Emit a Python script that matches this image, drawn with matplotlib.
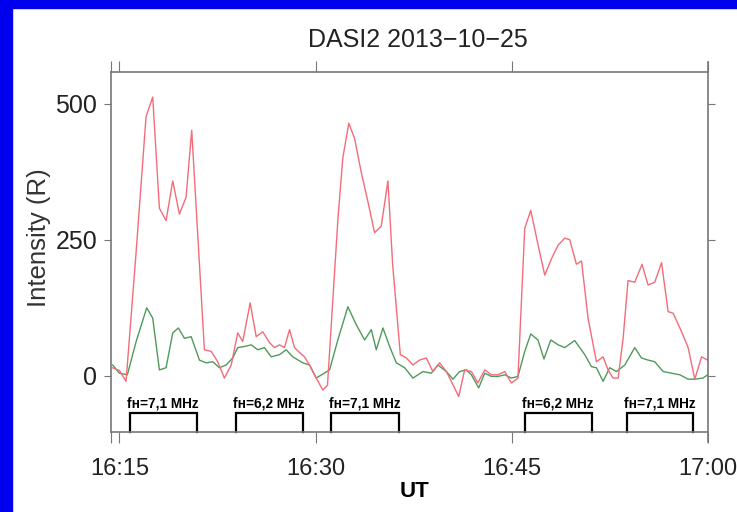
import matplotlib
matplotlib.use('Agg')
import matplotlib.pyplot as plt

# UT as minutes after 16:00
red_t = [14.46, 15.0, 15.51, 16.28, 17.04, 17.55, 18.06, 18.57, 19.08, 19.59, 20.10, 20.53,
         21.50, 22.02, 22.52, 23.03, 23.55, 24.05, 24.43, 25.00, 25.46, 25.96, 26.48, 26.86,
         27.24, 27.62, 28.01, 28.39, 28.77, 29.15, 29.54, 30.05, 30.55, 30.91, 31.70, 32.08,
         32.54, 32.98, 33.49, 34.00, 34.51, 35.02, 35.53, 35.89, 36.48, 36.94, 37.44, 37.95,
         38.46, 38.97, 39.48, 40.00, 40.50, 40.94, 41.40, 41.91, 42.41, 42.93, 43.44, 43.94,
         44.46, 44.97, 45.47, 45.99, 46.45, 46.96, 47.52, 48.03, 48.54, 49.05, 49.43, 49.94,
         50.33, 50.83, 51.47, 51.98, 52.36, 52.74, 53.13, 53.51, 53.89, 54.40, 54.96, 55.42,
         55.93, 56.45, 56.95, 57.34, 57.98, 58.48, 58.99, 59.51, 59.97]
red_v = [15, 10, -10, 227, 476, 512, 308, 285, 358, 297, 328, 451,
         48, 45, 26, -4, 20, 79, 63, 134, 72, 81, 61, 52,
         57, 52, 85, 52, 43, 35, 20, -4, -26, -17, 285, 400,
         464, 436, 374, 320, 263, 275, 358, 205, 39, 33, 20, 29,
         33, 8, 24, 8, -16, -38, 11, 8, -13, 11, 2, 2,
         8, -13, -4, 271, 304, 246, 185, 215, 240, 253, 250, 205,
         211, 106, 26, 35, 11, -4, -4, 69, 175, 172, 205, 167,
         172, 208, 118, 115, 81, 52, -6, 35, 29]

green_t = [14.49, 15.0, 15.61, 16.28, 17.09, 17.55, 18.06, 18.57, 19.08, 19.51, 19.97, 20.49,
           21.12, 21.63, 22.14, 22.65, 23.16, 23.67, 24.05, 24.56, 25.08, 25.58, 26.09, 26.61,
           27.24, 27.75, 28.26, 29.02, 29.54, 30.05, 31.07, 31.70, 32.47, 33.11, 33.75, 34.26,
           34.64, 35.15, 35.66, 36.17, 36.81, 37.44, 38.21, 38.85, 39.35, 40.00, 40.50, 41.01,
           41.53, 41.91, 42.47, 42.93, 43.44, 43.94, 44.46, 44.97, 45.47, 45.99, 46.45, 47.00,
           47.46, 47.98, 48.54, 49.05, 49.81, 50.58, 51.09, 51.47, 51.98, 52.49, 53.00, 53.64,
           54.40, 54.91, 55.42, 55.93, 56.57, 57.21, 57.85, 58.48, 58.99, 59.62, 59.97]
green_v = [20, 5, 2, 63, 125, 106, 11, 15, 79, 88, 69, 72,
           29, 24, 26, 15, 20, 33, 52, 54, 57, 48, 52, 35,
           39, 48, 35, 24, 20, -4, 11, 66, 127, 94, 66, 85,
           48, 88, 54, 24, 15, -4, 8, 5, 20, 8, -6, 8,
           11, 2, -22, 5, -1, -1, 2, -4, -1, 45, 77, 66,
           31, 66, 57, 52, 65, 39, 17, 15, -10, 15, 8, 20,
           52, 33, 29, 26, 8, 5, 2, -6, -6, -4, 2]

# heating periods
box_start = [15.8, 23.9, 31.2, 46.0, 53.8]
box_end = [20.9, 29.0, 36.4, 51.1, 58.85]
box_labels = ['fн=7,1 MHz', 'fн=6,2 MHz', 'fн=7,1 MHz', 'fн=6,2 MHz', 'fн=7,1 MHz']

tick_pos = [15, 30, 45, 60]
tick_labels = ['16:15', '16:30', '16:45', '17:00']
ytick_pos = [0, 250, 500]

narrow = ['Liberation Sans Narrow', 'Liberation Sans', 'DejaVu Sans']

fig = plt.figure(figsize=(7.37, 5.12), dpi=100)
fig.patch.set_facecolor('white')
# blue frame of the screenshot
fig.patches.append(plt.Rectangle((0, 1 - 8 / 512), 1, 8 / 512, transform=fig.transFigure,
                                 color='#0000ee', zorder=0))
fig.patches.append(plt.Rectangle((0, 0), 12 / 737, 1, transform=fig.transFigure,
                                 color='#0000ee', zorder=0))

ax = fig.add_axes([111 / 737, 1 - 432 / 512, 597 / 737, 360 / 512])
ymin, ymax = -103, 558
xmin, xmax = 14.36, 60

ax.plot(green_t, green_v, color='#4f9a5c', lw=1.0)
ax.plot(red_t, red_v, color='#f26c7a', lw=1.0)

box_top = -68
for s, e, lab in zip(box_start, box_end, box_labels):
    ax.plot([s, s, e, e], [ymin, box_top, box_top, ymin], color='black', lw=1.6,
            solid_joinstyle='miter', clip_on=False)
    ax.text((s + e) / 2, box_top + 5, lab, ha='center', va='bottom', fontsize=9.8,
            fontweight='bold', family=narrow)

ax.set_xlim(xmin, xmax)
ax.set_ylim(ymin, ymax)

ax.set_xticks([xmin] + tick_pos)
ax.set_xticklabels([''] + tick_labels, family=narrow, fontsize=17, color='#222222')
ax.set_yticks(ytick_pos)
ax.set_yticklabels([str(v) for v in ytick_pos], family=narrow, fontsize=18, color='#222222')
ax.tick_params(axis='x', direction='out', length=8, color='#777777', pad=11,
               top=True)
ax.tick_params(axis='y', direction='out', length=5, color='#777777', pad=5,
               right=True)

for side in ['left', 'right', 'top', 'bottom']:
    ax.spines[side].set_color('#777777')
    ax.spines[side].set_linewidth(1.2)
ax.spines['right'].set_bounds(-121, 576)
ax.spines['left'].set_bounds(ymin, ymax)

ax.set_ylabel('Intensity (R)', family=['Liberation Sans', 'DejaVu Sans'], fontsize=18.5,
              color='#333333')
ax.yaxis.set_label_coords(-0.10, 0.539)
ax.set_xlabel('UT', family=narrow, fontsize=16, fontweight='bold')
ax.xaxis.set_label_coords(0.509, -0.135)
fig.text(418 / 737, 1 - 40 / 512, 'DASI2 2013\u221210\u221225', ha='center', va='center',
         family=narrow, fontsize=18, color='#222222')

fig.savefig('out.png', dpi=100)
